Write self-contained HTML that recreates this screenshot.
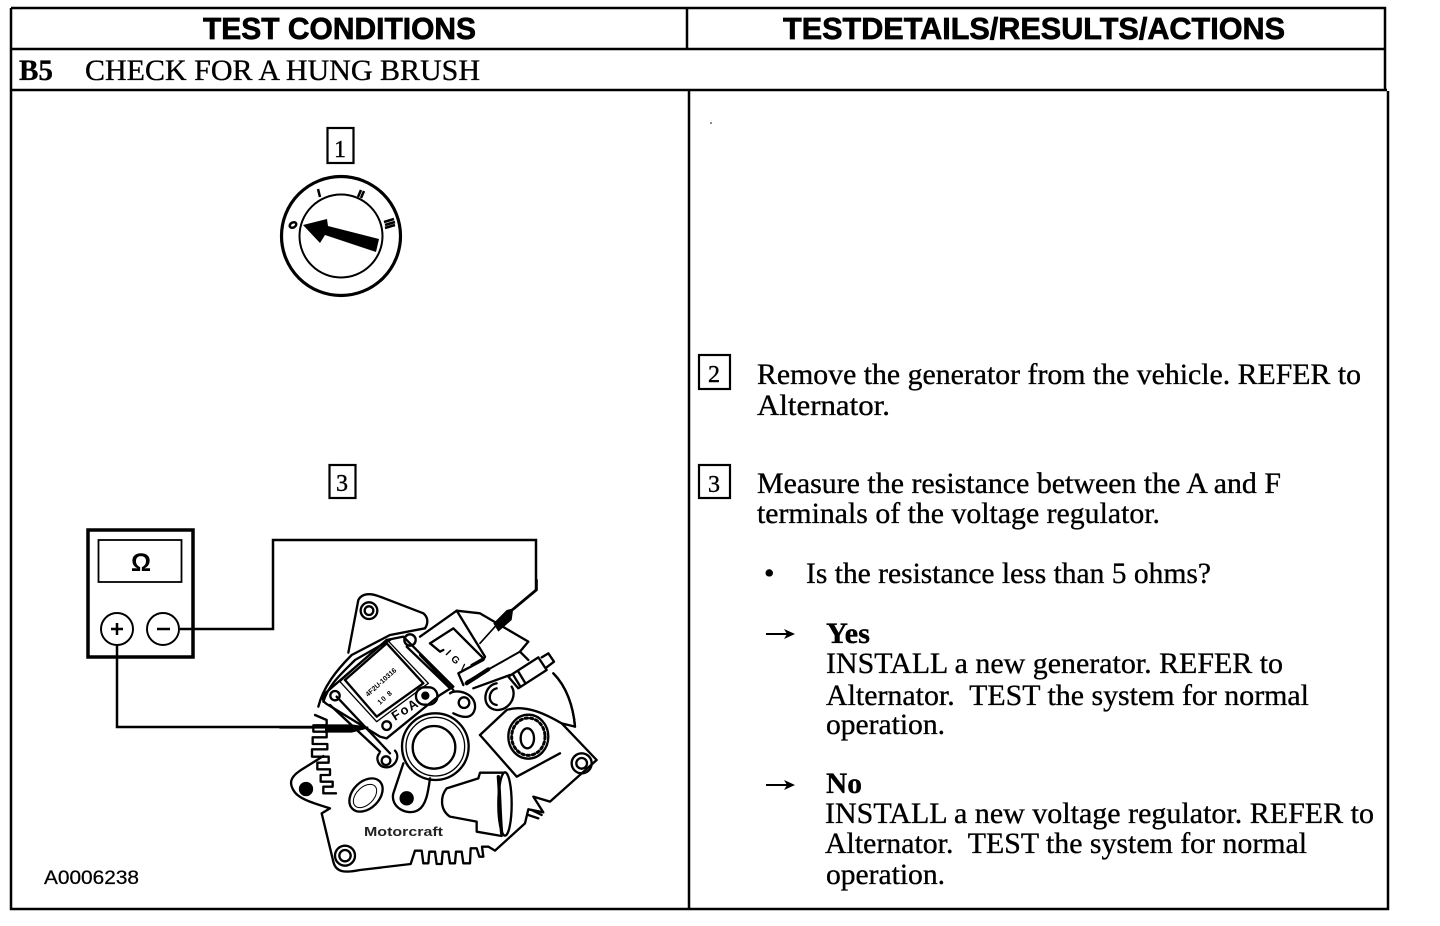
<!DOCTYPE html>
<html><head><meta charset="utf-8"><style>
html,body{margin:0;padding:0;background:#fff;width:1440px;height:926px;overflow:hidden}
svg{display:block}
.s{font-family:"Liberation Serif",serif;font-size:30px;fill:#000;stroke:#000;stroke-width:.35px}
.b{font-family:"Liberation Serif",serif;font-size:30px;font-weight:bold;fill:#000;stroke:#000;stroke-width:.3px}
.h{font-family:"Liberation Sans",sans-serif;font-size:31px;font-weight:bold;fill:#000;stroke:#000;stroke-width:.7px}
.n{font-family:"Liberation Serif",serif;font-size:24px;fill:#000;stroke:#000;stroke-width:.4px}
</style></head><body>
<svg width="1440" height="926" viewBox="0 0 1440 926" xmlns="http://www.w3.org/2000/svg">
<rect width="1440" height="926" fill="#fff"/>
<!-- table -->
<g fill="none" stroke="#000" stroke-width="2.5">
<path d="M11 8H1385V90"/><path d="M11 8V909H1388V91"/>
<path d="M11 49H1385"/><path d="M11 90H1387"/>
<path d="M687 8V49"/><path d="M689 91V909"/>
</g>
<text class="h" x="203" y="39" textLength="273" lengthAdjust="spacingAndGlyphs">TEST CONDITIONS</text>
<text class="h" x="783" y="39" textLength="502" lengthAdjust="spacingAndGlyphs">TESTDETAILS/RESULTS/ACTIONS</text>
<text class="b" x="19" y="80" textLength="34" lengthAdjust="spacingAndGlyphs">B5</text>
<text class="s" x="85" y="80" textLength="395" lengthAdjust="spacingAndGlyphs">CHECK FOR A HUNG BRUSH</text>
<!-- boxes -->
<g fill="none" stroke="#000" stroke-width="2.2">
<rect x="699" y="355" width="31" height="34"/><rect x="699" y="465" width="31" height="33"/>
<rect x="327.500" y="128" width="26" height="35"/><rect x="329.500" y="465" width="26" height="33"/>
</g>
<text class="n" x="714" y="382" text-anchor="middle">2</text>
<text class="n" x="714" y="492" text-anchor="middle">3</text>
<text class="n" x="340" y="157" text-anchor="middle">1</text>
<text class="n" x="342" y="491" text-anchor="middle">3</text>
<!-- right text -->
<text class="s" x="757" y="384" textLength="604" lengthAdjust="spacingAndGlyphs">Remove the generator from the vehicle. REFER to</text>
<text class="s" x="757" y="415" textLength="133" lengthAdjust="spacingAndGlyphs">Alternator.</text>
<text class="s" x="757" y="493" textLength="524" lengthAdjust="spacingAndGlyphs">Measure the resistance between the A and F</text>
<text class="s" x="757" y="523" textLength="403" lengthAdjust="spacingAndGlyphs">terminals of the voltage regulator.</text>
<text class="s" x="764" y="583">•</text>
<text class="s" x="806" y="583" textLength="405" lengthAdjust="spacingAndGlyphs">Is the resistance less than 5 ohms?</text>
<g fill="#000" stroke="#000"><path d="M766 634H790" stroke-width="2"/><path d="M784 629L795 634L784 639L787 634Z" stroke="none"/>
<path d="M766 785H790" stroke-width="2"/><path d="M784 780L795 785L784 790L787 785Z" stroke="none"/></g>
<text class="b" x="826" y="643" textLength="44" lengthAdjust="spacingAndGlyphs">Yes</text>
<text class="s" x="826" y="673" textLength="457" lengthAdjust="spacingAndGlyphs">INSTALL a new generator. REFER to</text>
<text class="s" x="826" y="705" textLength="483" lengthAdjust="spacingAndGlyphs" xml:space="preserve">Alternator.  TEST the system for normal</text>
<text class="s" x="826" y="734" textLength="119" lengthAdjust="spacingAndGlyphs">operation.</text>
<text class="b" x="826" y="793" textLength="36" lengthAdjust="spacingAndGlyphs">No</text>
<text class="s" x="825" y="823" textLength="549" lengthAdjust="spacingAndGlyphs">INSTALL a new voltage regulator. REFER to</text>
<text class="s" x="825" y="853" textLength="482" lengthAdjust="spacingAndGlyphs" xml:space="preserve">Alternator.  TEST the system for normal</text>
<text class="s" x="826" y="884" textLength="119" lengthAdjust="spacingAndGlyphs">operation.</text>
<text x="44" y="884" font-family="Liberation Sans,sans-serif" font-size="19" textLength="95" lengthAdjust="spacingAndGlyphs" stroke="#000" stroke-width=".25">A0006238</text>
<!-- dial -->
<circle cx="341" cy="236" r="59.500" fill="none" stroke="#000" stroke-width="3.200"/>
<circle cx="341" cy="236" r="41.500" fill="none" stroke="#000" stroke-width="2"/>
<path d="M303 225L327 219L328 226L379 239L376 252L325 235L320 243Z" fill="#000"/>
<g fill="none" stroke="#000" stroke-width="2.500">
<ellipse cx="293" cy="225" rx="3.500" ry="2.500" transform="rotate(-30 293 225)"/>
<path d="M318 189L320 197"/><path d="M361 190L358 197M364 191L361 198"/>
<path d="M384 222L394 219M385 225L395 222M385 228L395 225"/>
</g>
<!-- meter -->
<rect x="88" y="530" width="105" height="127" fill="none" stroke="#000" stroke-width="3.500"/>
<rect x="98.500" y="540" width="83" height="42" fill="none" stroke="#000" stroke-width="1.800"/>
<text x="141" y="571" text-anchor="middle" font-family="Liberation Sans,sans-serif" font-weight="bold" font-size="25">Ω</text>
<circle cx="117" cy="629" r="16" fill="#fff" stroke="#000" stroke-width="2"/>
<circle cx="163" cy="629" r="16" fill="#fff" stroke="#000" stroke-width="2"/>
<path d="M111 629H123M117 623V635M157 629H170" stroke="#000" stroke-width="2.500" fill="none"/>
<path d="M180 629H273V540H536V590L512 610M117 645V727H330" fill="none" stroke="#000" stroke-width="2.500"/>
<!-- alternator -->
<g transform="translate(280 580) scale(.33333)" fill="none" stroke="#000" stroke-width="7" stroke-linejoin="round" stroke-linecap="round">
<!-- top ear -->
<path d="M205 218L235 60C245 40 270 38 300 50L430 100C445 112 445 130 435 145"/>
<circle cx="267" cy="92" r="25"/><circle cx="267" cy="92" r="13"/>
<!-- housing upper-left, double line -->
<path d="M115 380C130 320 170 270 215 225L330 165L435 145"/>
<path d="M130 365C145 315 185 280 225 240L330 180"/>
<!-- left comb -->
<path d="M105 405L140 420V436H100V455H140V472H98V492H142V508H96V530H130"/>
<path d="M118 530H146V548H112V568H150V585H122V605H158V620H130V640H168"/>
<!-- left ear + bottom + right outline -->
<path d="M130 528L60 572C30 592 28 610 40 630C52 655 95 668 150 685L125 700L160 845C168 880 200 878 240 870L392 852L405 812H425L430 850H445L448 815H465L470 852H485L488 815H505L510 850H525L528 815H545L550 850H570L572 805H590L598 830H610L606 800H625L645 812L735 730L745 688L790 697L760 650L810 665L950 540L845 430L885 440C880 380 860 320 820 280"/>
<path d="M755 690L785 705M745 705L775 715"/>
<!-- regulator -->
<path d="M135 340L320 180L370 170L520 320L480 345L320 475L300 470L145 375C125 365 125 350 135 340Z"/>
<path d="M195 300L320 190L430 310L290 410Z"/>
<path d="M180 305L320 178L445 310L290 425Z" stroke-width="4"/>
<path d="M380 200L510 325M420 225L520 330"/>
<path d="M150 375L300 515M170 350L330 520"/>
<path d="M298 520C285 535 295 562 320 562C345 562 362 530 345 512"/>
<circle cx="318" cy="542" r="13"/><circle cx="165" cy="347" r="14"/><circle cx="320" cy="437" r="13"/><circle cx="390" cy="180" r="17"/>
<rect x="408" y="322" width="64" height="52" rx="25"/><circle cx="436" cy="347" r="9" fill="#000"/>
<circle cx="552" cy="368" r="16"/><path d="M510 340C530 325 590 340 585 385C580 410 560 420 520 400"/>
<!-- terminal block -->
<path d="M420 170L530 92L615 230L610 240L535 280L550 315"/>
<path d="M450 190L520 145L610 235L575 255"/>
<path d="M450 190L480 215L490 210"/>
<path d="M530 92L600 100L745 185L720 215L745 240"/>
<path d="M560 305L720 215" stroke-width="6"/>
<path d="M560 310L625 268" stroke-width="12"/>
<path d="M580 325L690 285"/>
<path d="M685 290L775 232L800 270L715 325ZM785 232L805 220L822 245L800 262M700 285L720 318M715 275L735 308"/>
<path d="M820 280C860 320 880 380 885 440"/>
<path d="M650 310C610 315 600 385 650 390C690 392 712 345 695 320"/>
<path d="M650 325C625 330 620 370 650 375"/>
<!-- stud plate -->
<path d="M600 465L680 390C740 370 810 410 845 430"/>
<path d="M600 465L710 590L840 520"/>
<ellipse cx="745" cy="470" rx="60" ry="66"/>
<ellipse cx="745" cy="470" rx="50" ry="56" stroke-width="9" stroke-dasharray="7 9"/>
<ellipse cx="742" cy="475" rx="20" ry="30"/>
<!-- bearing -->
<circle cx="466" cy="500" r="100"/><circle cx="466" cy="500" r="88" stroke-width="4"/><circle cx="462" cy="502" r="64"/>
<path d="M370 550L340 640C330 680 380 710 415 690C440 675 445 630 450 595"/>
<circle cx="380" cy="655" r="18" fill="#000"/><circle cx="78" cy="627" r="18" fill="#000"/>
<ellipse cx="258" cy="645" rx="58" ry="40" transform="rotate(-45 258 645)"/><ellipse cx="255" cy="648" rx="42" ry="26" stroke-width="3" transform="rotate(-45 255 648)"/>
<circle cx="195" cy="827" r="30"/><circle cx="195" cy="827" r="17"/>
<circle cx="905" cy="550" r="30"/><circle cx="905" cy="550" r="16"/>
<!-- bell -->
<path d="M595 595L500 625C480 650 480 690 510 710L590 725V755L665 768"/>
<path d="M595 595L600 578L675 578"/>
<ellipse cx="675" cy="672" rx="20" ry="95" fill="#fff"/><path d="M655 590C660 650 660 710 665 760" stroke-width="10"/>
<!-- probes -->
<path d="M0 443H140" stroke-width="6"/><path d="M135 433H215L265 440V445L215 458H135Z" fill="#000" stroke="none"/>
<path d="M770 0V30L700 88" stroke-width="7"/><path d="M700 85L680 90L640 130L655 155L695 120Z" fill="#000" stroke="none"/><path d="M645 140L600 190" stroke-width="5"/>
</g>
<text x="364" y="836" font-family="Liberation Sans,sans-serif" font-weight="bold" font-size="13" textLength="79" lengthAdjust="spacingAndGlyphs" fill="#222">Motorcraft</text>
<text x="0" y="0" transform="translate(395 721) rotate(-32)" font-family="Liberation Sans,sans-serif" font-weight="bold" font-size="13" letter-spacing="1.500">FoA</text>
<text x="0" y="0" transform="translate(368 697) rotate(-42)" font-family="Liberation Sans,sans-serif" font-weight="bold" font-size="7">4F2U-10316</text>
<text x="0" y="0" transform="translate(380 705) rotate(-42)" font-family="Liberation Sans,sans-serif" font-weight="bold" font-size="7" letter-spacing="1">10  8</text>
<text x="0" y="0" transform="translate(445 654) rotate(45)" font-family="Liberation Sans,sans-serif" font-weight="bold" font-size="10" letter-spacing="1">I G V</text>
<circle cx="711" cy="123" r=".8" fill="#000"/>
</svg>
</body></html>
